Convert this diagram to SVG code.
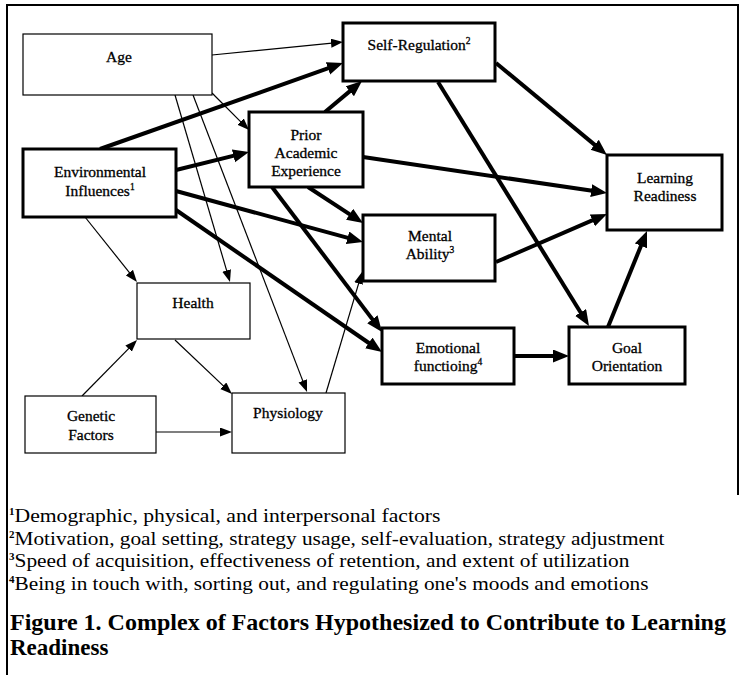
<svg xmlns="http://www.w3.org/2000/svg" width="740" height="675" viewBox="0 0 740 675">
<defs>
<style>
.frame{fill:none;stroke:#000;stroke-width:2}
.thin{fill:#fff;stroke:#000;stroke-width:1.2}
.thick{fill:#fff;stroke:#000;stroke-width:3}
.lab{font-family:"Liberation Serif","Times New Roman",serif;font-size:15.5px;fill:#000;stroke:#000;stroke-width:0.3;text-anchor:middle}
.sup{font-size:9.5px}
.ct{stroke:#000;stroke-width:1.2;fill:none;marker-end:url(#ah)}
.ck{stroke:#000;stroke-width:4;fill:none;marker-end:url(#ak)}
.fn{font-family:"Liberation Serif","Times New Roman",serif;font-size:19px;fill:#000}
.fs{font-size:11px;font-weight:bold}
.cap{font-family:"Liberation Serif","Times New Roman",serif;font-size:23px;font-weight:bold;fill:#000}
</style>
<marker id="ak" markerUnits="userSpaceOnUse" markerWidth="18" markerHeight="14" refX="8" refY="6.5" orient="auto">
<path d="M0,0 L16,6.5 L0,13 z" fill="#000"/>
</marker>
<marker id="ah" markerUnits="userSpaceOnUse" markerWidth="14" markerHeight="10" refX="6" refY="4.5" orient="auto">
<path d="M0,0 L12,4.5 L0,9 z" fill="#000"/>
</marker>
</defs>
<rect width="740" height="675" fill="#fff"/>
<path class="frame" d="M7,675 L7,5 L738,5 L738,495"/>

<g id="connectors">
<line class="ct" x1="212" y1="55" x2="337" y2="42.6"/>
<line class="ct" x1="212" y1="93" x2="244.8" y2="125.8"/>
<line class="ct" x1="175" y1="95" x2="228.3" y2="276.2"/>
<line class="ct" x1="193" y1="95" x2="304.9" y2="386.4"/>
<line class="ct" x1="85" y1="217" x2="133.2" y2="277.3"/>
<line class="ct" x1="175" y1="340" x2="227.6" y2="389.9"/>
<line class="ct" x1="82" y1="396" x2="132.8" y2="344.3"/>
<line class="ct" x1="156" y1="432" x2="226" y2="432"/>
<line class="ct" x1="326" y1="393" x2="360.3" y2="277.8"/>
<line class="ck" x1="100" y1="149" x2="335.5" y2="65.7"/>
<line class="ck" x1="176" y1="170" x2="241.2" y2="153.9"/>
<line class="ck" x1="176" y1="191" x2="355.3" y2="239.9"/>
<line class="ck" x1="176" y1="210" x2="375.4" y2="347.5"/>
<line class="ck" x1="325" y1="112" x2="355.9" y2="86.1"/>
<line class="ck" x1="363" y1="157" x2="599.1" y2="191.8"/>
<line class="ck" x1="308" y1="187" x2="356.3" y2="218.6"/>
<line class="ck" x1="272" y1="187" x2="377.2" y2="325.6"/>
<line class="ck" x1="496" y1="63" x2="600.8" y2="149.9"/>
<line class="ck" x1="438" y1="82" x2="584.8" y2="319.2"/>
<line class="ck" x1="496" y1="262" x2="599.7" y2="217.2"/>
<line class="ck" x1="514" y1="356" x2="561" y2="356"/>
<line class="ck" x1="608" y1="327" x2="644" y2="238.4"/>
</g>

<g id="age"><rect class="thin" x="23" y="34" width="189" height="61"/><text class="lab" x="119" y="62">Age</text></g>
<g id="env"><rect class="thick" x="23" y="149" width="153" height="68"/><text class="lab" x="100" y="177">Environmental</text><text class="lab" x="100" y="196">Influences<tspan class="sup" dy="-6">1</tspan></text></g>
<g id="prior"><rect class="thick" x="249" y="112" width="114" height="75"/><text class="lab" x="306" y="140">Prior</text><text class="lab" x="306" y="158">Academic</text><text class="lab" x="306" y="176">Experience</text></g>
<g id="selfreg"><rect class="thick" x="343" y="23" width="152" height="58"/><text class="lab" x="419" y="50">Self-Regulation<tspan class="sup" dy="-6">2</tspan></text></g>
<g id="learning"><rect class="thick" x="607" y="155" width="115" height="75"/><text class="lab" x="665" y="183">Learning</text><text class="lab" x="665" y="201">Readiness</text></g>
<g id="mental"><rect class="thick" x="363" y="215" width="132" height="66"/><text class="lab" x="430" y="241">Mental</text><text class="lab" x="430" y="259">Ability<tspan class="sup" dy="-6">3</tspan></text></g>
<g id="emotional"><rect class="thick" x="382" y="328" width="132" height="56"/><text class="lab" x="448" y="353">Emotional</text><text class="lab" x="448" y="371">functioing<tspan class="sup" dy="-6">4</tspan></text></g>
<g id="goal"><rect class="thick" x="569" y="327" width="116" height="57"/><text class="lab" x="627" y="353">Goal</text><text class="lab" x="627" y="371">Orientation</text></g>
<g id="health"><rect class="thin" x="137" y="283" width="113" height="56"/><text class="lab" x="193" y="308">Health</text></g>
<g id="genetic"><rect class="thin" x="25" y="396" width="131" height="57"/><text class="lab" x="91" y="421">Genetic</text><text class="lab" x="91" y="440">Factors</text></g>
<g id="physiology"><rect class="thin" x="232" y="393" width="113" height="60"/><text class="lab" x="288" y="418">Physiology</text></g>

<g id="notes">
<text class="fn" x="9" y="522"><tspan class="fs" dy="-7">1</tspan><tspan dy="7" textLength="426" lengthAdjust="spacingAndGlyphs">Demographic, physical, and interpersonal factors</tspan></text>
<text class="fn" x="9" y="545"><tspan class="fs" dy="-7">2</tspan><tspan dy="7" textLength="650" lengthAdjust="spacingAndGlyphs">Motivation, goal setting, strategy usage, self-evaluation, strategy adjustment</tspan></text>
<text class="fn" x="9" y="567"><tspan class="fs" dy="-7">3</tspan><tspan dy="7" textLength="615" lengthAdjust="spacingAndGlyphs">Speed of acquisition, effectiveness of retention, and extent of utilization</tspan></text>
<text class="fn" x="9" y="590"><tspan class="fs" dy="-7">4</tspan><tspan dy="7" textLength="634" lengthAdjust="spacingAndGlyphs">Being in touch with, sorting out, and regulating one's moods and emotions</tspan></text>
<text class="cap" x="10" y="630" textLength="716" lengthAdjust="spacingAndGlyphs">Figure 1. Complex of Factors Hypothesized to Contribute to Learning</text>
<text class="cap" x="10" y="655">Readiness</text>
</g>
</svg>
